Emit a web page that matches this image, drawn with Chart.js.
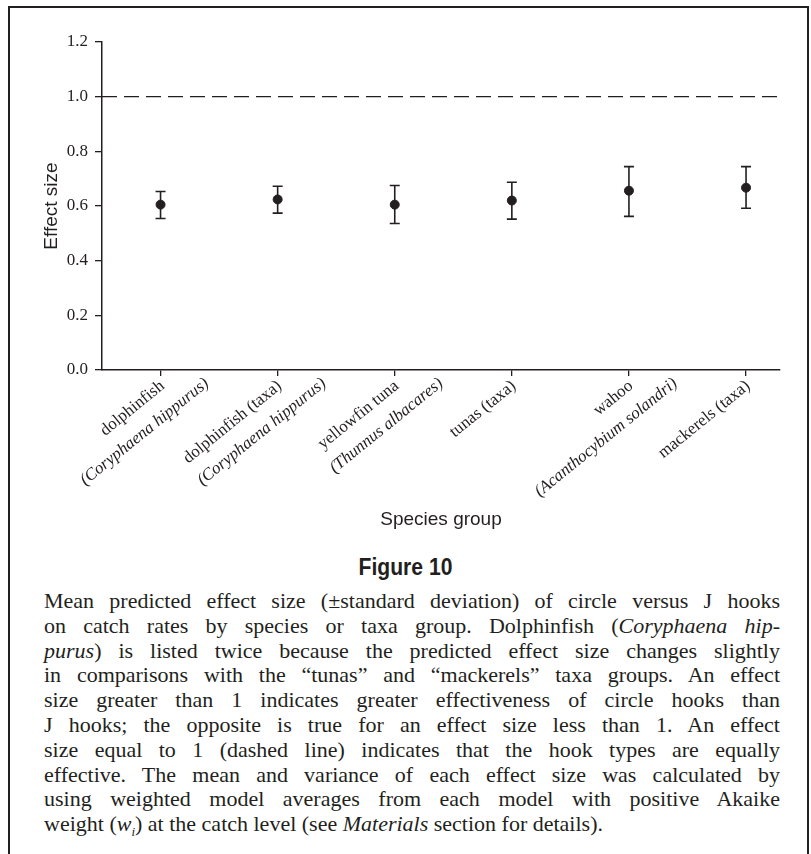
<!DOCTYPE html>
<html>
<head>
<meta charset="utf-8">
<script src="https://cdn.jsdelivr.net/npm/chart.js@4.4.1/dist/chart.umd.min.js"></script>
<style>
  html, body { margin: 0; padding: 0; background: #fff; }
  body { width: 811px; height: 854px; position: relative; overflow: hidden; color: #231f20; }
  #frame { position: absolute; left: 8px; top: 6px; width: 797px; height: 900px; border: 2.5px solid #231f20; }
  #plot { position: absolute; left: 0; top: 0; }
  #figno { position: absolute; left: 0; width: 811px; top: 553px; text-align: center;
    font-family: "Liberation Sans Narrow", "Liberation Sans", sans-serif; font-stretch: condensed;
    font-weight: bold; font-size: 24px; line-height: 28px; transform: scaleX(0.88); }
  #caption { position: absolute; left: 44px; top: 589px; width: 736px;
    font-family: "Liberation Serif", serif; font-size: 22px; }
  #caption div { height: 24.8px; line-height: 24.8px; white-space: nowrap; text-align: justify; text-align-last: justify; }
  #caption div.last { text-align-last: left; }
  sub { font-size: 13px; line-height: 0; }
</style>
</head>
<body>
<div id="frame"></div>
<canvas id="plot" width="811" height="540"></canvas>
<div id="figno">Figure 10</div>
<div id="caption">
  <div>Mean predicted effect size (±standard deviation) of circle versus J hooks</div>
  <div>on catch rates by species or taxa group. Dolphinfish (<i>Coryphaena hip-</i></div>
  <div><i>purus</i>) is listed twice because the predicted effect size changes slightly</div>
  <div>in comparisons with the “tunas” and “mackerels” taxa groups. An effect</div>
  <div>size greater than 1 indicates greater effectiveness of circle hooks than</div>
  <div>J hooks; the opposite is true for an effect size less than 1. An effect</div>
  <div>size equal to 1 (dashed line) indicates that the hook types are equally</div>
  <div>effective. The mean and variance of each effect size was calculated by</div>
  <div>using weighted model averages from each model with positive Akaike</div>
  <div class="last">weight (<i>w<sub>i</sub></i>) at the catch level (see <i>Materials</i> section for details).</div>
</div>
<script>
// species groups, plotted at positions 1..6
const commonNames = ['dolphinfish', 'dolphinfish (taxa)', 'yellowfin tuna', 'tunas (taxa)', 'wahoo', 'mackerels (taxa)'];
const sciNames = ['(Coryphaena hippurus)', '(Coryphaena hippurus)', '(Thunnus albacares)', '', '(Acanthocybium solandri)', ''];
const groupPos = [1, 2, 3, 4, 5, 6];

// mean effect size and +/- sd ends
const meanEffect = [0.605, 0.624, 0.605, 0.620, 0.656, 0.667];
const sdLower = [0.554, 0.574, 0.536, 0.552, 0.562, 0.592];
const sdUpper = [0.653, 0.672, 0.675, 0.687, 0.744, 0.744];

const yTicks = [0, 0.2, 0.4, 0.6, 0.8, 1.0, 1.2];
const equalEffect = 1.0;
const xRange = [0.5, 6.29];

const ink = '#231f20';

// error bars drawn under the points
const errorBars = {
  id: 'errorBars',
  beforeDatasetsDraw(chart) {
    const { ctx, scales: { x, y } } = chart;
    ctx.save();
    ctx.strokeStyle = ink;
    ctx.lineWidth = 1.6;
    groupPos.forEach((g, i) => {
      const px = x.getPixelForValue(g);
      const top = y.getPixelForValue(sdUpper[i]);
      const bot = y.getPixelForValue(sdLower[i]);
      ctx.beginPath();
      ctx.moveTo(px, top); ctx.lineTo(px, bot);
      ctx.moveTo(px - 5, top); ctx.lineTo(px + 5, top);
      ctx.moveTo(px - 5, bot); ctx.lineTo(px + 5, bot);
      ctx.stroke();
    });
    ctx.restore();
  }
};

// rotated two-line category labels (second line italic, right-aligned with offset)
const speciesLabels = {
  id: 'speciesLabels',
  afterDraw(chart) {
    const { ctx, scales: { x, y } } = chart;
    ctx.save();
    ctx.fillStyle = ink;
    groupPos.forEach((g, i) => {
      const px = x.getPixelForValue(g);
      ctx.save();
      ctx.translate(px + 2, y.bottom + 14);
      ctx.rotate(-39 * Math.PI / 180);
      ctx.textBaseline = 'middle';
      ctx.textAlign = 'right';
      ctx.font = '17px "Liberation Serif", serif';
      ctx.fillText(commonNames[i], 0, 0);
      if (sciNames[i]) {
        ctx.font = 'italic 17px "Liberation Serif", serif';
        ctx.fillText(sciNames[i], 36, 26);
      }
      ctx.restore();
    });
    ctx.restore();
  }
};

new Chart(document.getElementById('plot'), {
  type: 'scatter',
  data: {
    datasets: [
      {
        type: 'line',
        data: [{ x: xRange[0], y: equalEffect }, { x: xRange[1], y: equalEffect }],
        borderColor: ink,
        borderWidth: 1.3,
        borderDash: [15, 7],
        pointRadius: 0
      },
      {
        data: groupPos.map((g, i) => ({ x: g, y: meanEffect[i] })),
        backgroundColor: ink,
        borderColor: ink,
        pointRadius: 4.5
      }
    ]
  },
  options: {
    responsive: false,
    animation: false,
    devicePixelRatio: 1,
    layout: { padding: { left: 0, top: 42, right: 31, bottom: 0 } },
    plugins: { legend: { display: false }, tooltip: { enabled: false } },
    scales: {
      x: {
        type: 'linear',
        min: xRange[0],
        max: xRange[1],
        afterBuildTicks: (s) => { s.ticks = groupPos.map(v => ({ value: v })); },
        afterFit: (s) => { s.height = 170; },
        ticks: { display: false },
        grid: { drawOnChartArea: false, drawTicks: true, tickLength: 6, color: ink, lineWidth: 1.3 },
        border: { color: ink, width: 1.5 },
        title: {
          display: true,
          text: 'Species group',
          color: ink,
          font: { family: '"Liberation Sans", Arial, sans-serif', size: 19 },
          padding: { top: 0, bottom: 9 }
        }
      },
      y: {
        min: 0,
        max: 1.2,
        afterBuildTicks: (s) => { s.ticks = yTicks.map(v => ({ value: v })); },
        afterFit: (s) => { s.width = 102; },
        ticks: {
          color: ink,
          padding: 7,
          font: { family: '"Liberation Serif", serif', size: 17 },
          callback: (v) => v.toFixed(1)
        },
        grid: { drawOnChartArea: false, drawTicks: true, tickLength: 7, color: ink, lineWidth: 1.3 },
        border: { color: ink, width: 1.5 },
        title: {
          display: true,
          text: 'Effect size',
          color: ink,
          font: { family: '"Liberation Sans", Arial, sans-serif', size: 19 },
          padding: { top: 40, bottom: 0 }
        }
      }
    }
  },
  plugins: [errorBars, speciesLabels]
});
</script>
</body>
</html>
